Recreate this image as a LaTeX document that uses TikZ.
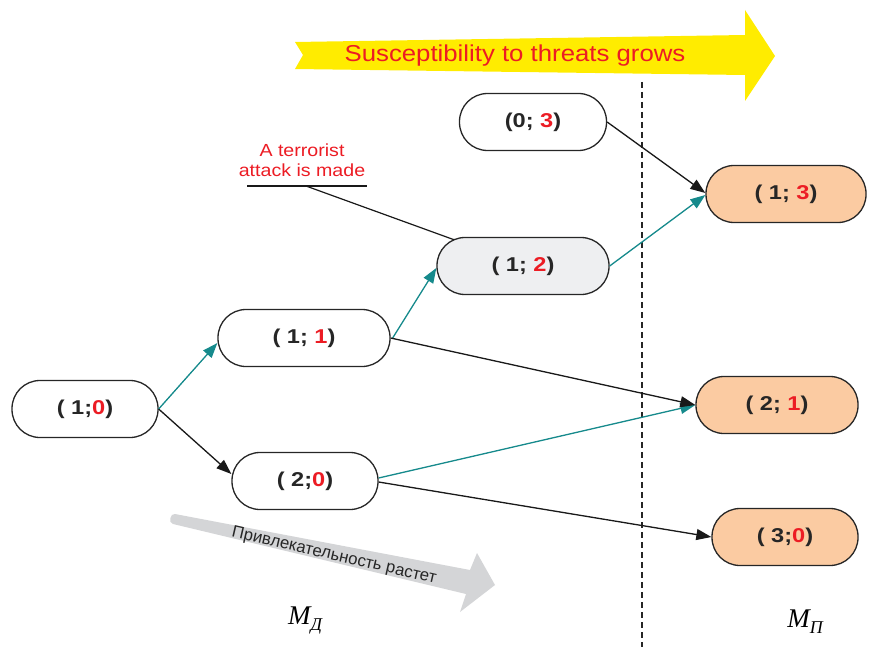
\documentclass[tikz,border=0pt]{standalone}
\usepackage{fontspec}
\setmainfont{Liberation Sans}
\newfontfamily\nodefont[FakeStretch=1.18]{Liberation Sans}
\newfontfamily\lblfont[FakeStretch=1.12]{Liberation Sans}
\newfontfamily\cyrserif{Liberation Serif}
\usetikzlibrary{arrows.meta}
\definecolor{tealc}{HTML}{168A8C}
\definecolor{redc}{HTML}{EC1C24}
\definecolor{peach}{HTML}{FBCBA2}
\definecolor{lgray}{HTML}{EEEFF1}
\definecolor{yel}{HTML}{FFEC00}
\definecolor{garrow}{HTML}{D4D5D7}
\newcommand\redtxt[1]{\textcolor{redc}{#1}}
\begin{document}
\begin{tikzpicture}[x=1pt,y=-1pt,
  state/.style={draw=black!85, line width=1.3pt, rectangle, rounded corners=28pt,
    minimum height=57pt, inner sep=0pt, text=black!85,
    font=\nodefont\bfseries\fontsize{20}{20}\selectfont},
  goal/.style={state, fill=peach},
  conn/.style={line width=1.3pt, -{Triangle[length=15pt,width=11pt]}},
  tconn/.style={conn, draw=tealc, fill=tealc},
  bconn/.style={conn, draw=black!90, fill=black!90}
]
\useasboundingbox (0,0) rectangle (869,647);

% yellow arrow
\fill[yel] (295,42) -- (745,35) -- (745,10) -- (775,56) -- (745,101) -- (745,75) -- (295,69) -- (303,55) -- cycle;
\node[text=redc, font=\lblfont\fontsize{23}{23}\selectfont] (susc) at (515,56) {Susceptibility to threats grows};

% gray arrow
\fill[garrow] (175,514) -- (470,570) -- (477,553) -- (495,585) -- (460,612) -- (466,594) -- (173,524)
  .. controls (168,523) and (170,513) .. (175,514) -- cycle;
\node[rotate=-13, text=black!85, font=\fontsize{16.8}{16.8}\selectfont, inner sep=1pt] (attr) at (334,556) {Привлекательность растет};

% dashed divider
\coordinate (dtop) at (642,82);
\coordinate (dbot) at (642,647);
\draw[dashed, dash pattern=on 6pt off 4pt, line width=1.4pt, black!85] (dtop) -- (dbot);

% states
\node[state, minimum width=146pt] (n10) at (85,409) {( 1;\redtxt{0})};
\node[state, minimum width=172pt] (n11) at (304,338) {( 1; \redtxt{1})};
\node[state, minimum width=146pt] (n20) at (305,481) {( 2;\redtxt{0})};
\node[state, minimum width=172pt, fill=lgray] (n12) at (523,266) {( 1; \redtxt{2})};
\node[state, minimum width=147pt] (n03) at (533,122) {(0; \redtxt{3})};
\node[goal, minimum width=160pt] (n13) at (786,194) {( 1; \redtxt{3})};
\node[goal, minimum width=162pt] (n21) at (777,405) {( 2; \redtxt{1})};
\node[goal, minimum width=146pt] (n30) at (785,537) {( 3;\redtxt{0})};

% terrorist attack label
\node[text=redc, align=center, font=\lblfont\fontsize{17.5}{20}\selectfont] (atk) at (302,160) {A terrorist\\attack is made};
\coordinate (ul1) at (247,186);
\coordinate (ul2) at (367,186);
\coordinate (ulm) at (306,186);
\draw[line width=1.2pt, black!90] (ul1) -- (ul2);
\draw[line width=1.2pt, black!90] (ulm) -- ([xshift=18pt,yshift=-3pt]n12.north west);

% connectors
\draw[tconn] (n10.east) -- ([yshift=-5pt]n11.west);
\draw[tconn] ([xshift=2pt]n11.east) -- ([yshift=-2pt]n12.west);
\draw[tconn] (n12.east) -- ([yshift=-1pt]n13.west);
\draw[tconn] ([yshift=3pt]n20.east) -- (n21.west);
\draw[bconn] (n10.east) -- ([yshift=7pt]n20.west);
\draw[bconn] (n11.east) -- (n21.west);
\draw[bconn] (n03.east) -- ([yshift=1pt]n13.west);
\draw[bconn] ([yshift=-1pt]n20.east) -- (n30.west);

% labels
\node[font=\cyrserif\itshape\fontsize{27}{27}\selectfont, inner sep=0pt] (md) at (305,620) {M\raisebox{-6pt}{\fontsize{18}{18}\selectfont Д}};
\node[font=\cyrserif\itshape\fontsize{27}{27}\selectfont, inner sep=0pt] (mp) at (805,622) {M\raisebox{-6pt}{\fontsize{18}{18}\selectfont П}};
\end{tikzpicture}
\end{document}
